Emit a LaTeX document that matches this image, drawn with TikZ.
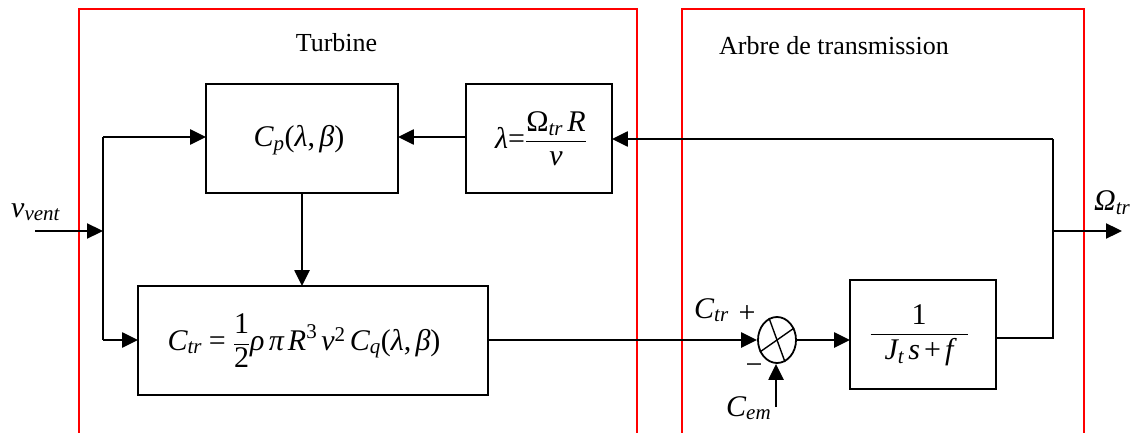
\documentclass[tikz,border=0pt]{standalone}
\usepackage{amsmath}
\usepackage{fontspec}
\setmainfont{Liberation Serif}
\usetikzlibrary{arrows.meta,shapes.geometric}
\newcommand{\mi}[1]{\text{\itshape #1}}
\newcommand{\up}[1]{\text{\upshape #1}}
\tikzset{
  blk/.style={draw=black,line width=1.8pt,minimum width=#1,inner sep=0pt},
  conn/.style={line width=2.3pt,-{Triangle[length=16pt,width=15pt]}},
  wire/.style={line width=2.3pt},
  frame/.style={draw=red,line width=1.4pt},
  lbl/.style={font=\fontsize{26}{30}\selectfont,inner sep=0pt},
  mlbl/.style={font=\fontsize{30}{34}\selectfont,inner sep=0pt},
}
\begin{document}
\begin{tikzpicture}[x=1pt,y=-1pt]
\useasboundingbox (0,0) rectangle (1130,433);
% frames
\draw[frame] (79,433) -- (79,9) -- (637,9) -- (637,433);
\draw[frame] (682,433) -- (682,9) -- (1084,9) -- (1084,433);
\node[lbl,anchor=base] (tturb) at (336.5,52) {Turbine};
\node[lbl,anchor=base] (tarbre) at (834,55) {Arbre de transmission};
% blocks
\node[blk=190pt,minimum height=107pt,draw=none] (cp) at (302,138.5) {};
\draw[line width=1.8pt] (cp.north west) rectangle (cp.south east);
\node[mlbl,anchor=base] (cpt) at (299,147)
  {$\mi{C}_{\mi{p}}\up{(}\mi{λ}\up{,}\,\mi{β}\up{)}$};
\node[blk=144pt,minimum height=107pt,draw=none] (lam) at (539,138.5) {};
\draw[line width=1.8pt] (lam.north west) rectangle (lam.south east);
\node[mlbl] (lamt) at (541,138.5)
  {$\mi{λ}\up{=}\dfrac{\up{Ω}_{\mi{tr}}\,\mi{R}}{\hspace{14pt}\mi{v}\hspace{14pt}}$};
\node[blk=348pt,minimum height=107pt,draw=none] (ctr) at (313,340.5) {};
\draw[line width=1.8pt] (ctr.north west) rectangle (ctr.south east);
\node[mlbl] (ctrt) at (304,340.5)
  {$\mi{C}_{\mi{tr}}\;\up{=}\;\dfrac{\up{1}}{\up{2}}\mi{ρ}\,\mi{π}\,\mi{R}^{\up{3}}\,\mi{v}^{\up{2}}\,\mi{C}_{\mi{q}}\up{(}\mi{λ}\up{,}\,\mi{β}\up{)}$};
\node[blk=144pt,minimum height=107pt,draw=none] (tf) at (923,334.5) {};
\draw[line width=1.8pt] (tf.north west) rectangle (tf.south east);
\node[mlbl] (tft) at (919,335)
  {$\dfrac{\up{1}}{\hspace{14pt}\mi{J}_{\mi{t}}\,\mi{s}\,\up{+}\,\mi{f}\hspace{14pt}}$};
\node[ellipse,draw,line width=1.8pt,minimum width=38pt,minimum height=46pt,inner sep=0pt] (sum) at (777,340) {};
\draw[line width=1.4pt] (sum.110) -- (sum.290);
\draw[line width=1.4pt] (sum.35) -- (sum.215);
% coordinates
\coordinate (vin) at (35,231);
\coordinate (jin) at (103,231);
\coordinate (jtop) at (103,137);
\coordinate (jbot) at (103,340);
\coordinate (fbtop) at (1053,139);
\coordinate (fbbot) at (1053,337.7);
\coordinate (jout) at (1053,231);
\coordinate (oout) at (1122,231);
\coordinate (cemstart) at (776,407);
% connectors
\draw[conn] (vin) -- (jin);
\draw[wire] (jtop) -- (jbot);
\draw[conn] (jtop) -- (cp.west |- jtop);
\draw[conn] (jbot) -- (ctr.west |- jbot);
\draw[conn] (cp.south) -- (ctr.north -| cp.south);
\draw[conn] (lam.west |- jtop) -- (cp.east |- jtop);
\draw[conn] (fbtop) -- (lam.east |- fbtop);
\draw[wire] (tf.east |- fbbot) -- (fbbot) -- (fbtop);
\draw[conn] (jout) -- (oout);
\draw[conn] (ctr.east |- sum.west) -- (sum.west);
\draw[conn] (sum.east) -- (tf.west |- sum.east);
\draw[conn] (cemstart) -- (cemstart |- sum.south);
% labels
\node[mlbl,anchor=base west] (lv) at (11,217) {$\mi{v}_{\mi{vent}}$};
\node[mlbl,anchor=base west] (lo) at (1094,211) {$\mi{Ω}_{\mi{tr}}$};
\node[mlbl,anchor=base west] (lc) at (694,318) {$\mi{C}_{\mi{tr}}$};
\node[mlbl] (lp) at (747,314) {+};
\node[mlbl] (lm) at (754,369) {−};
\node[mlbl,anchor=base west] (lce) at (726,416) {$\mi{C}_{\mi{em}}$};
\end{tikzpicture}
\end{document}
